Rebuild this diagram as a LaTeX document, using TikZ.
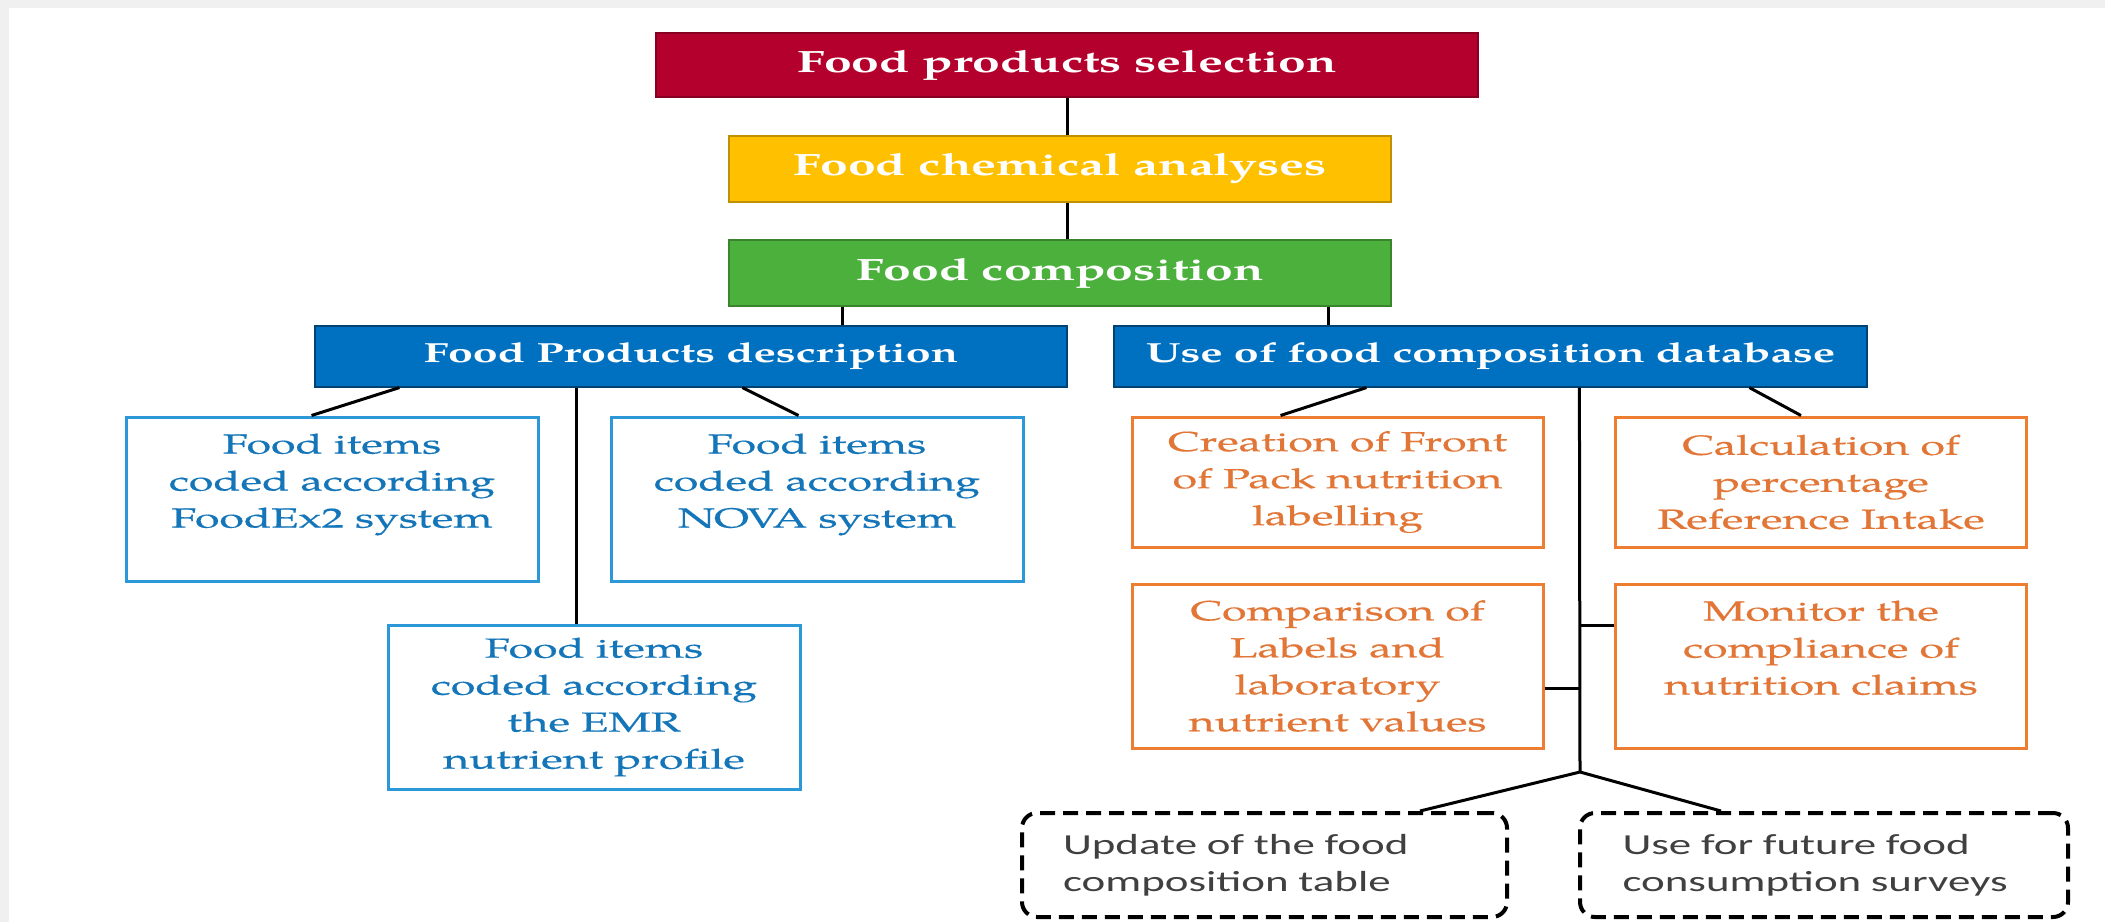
\documentclass[tikz,border=0pt]{standalone}
\usepackage{fontspec}
\newfontfamily\palfont{TeX Gyre Pagella}[FakeStretch=1.62]
\newfontfamily\palreg{TeX Gyre Pagella}[FakeStretch=1.62,FakeBold=0.5]
\newfontfamily\calfont{Carlito}[FakeStretch=1.55]
\usetikzlibrary{calc}
\definecolor{bggrey}{RGB}{240,240,240}
\definecolor{redc}{RGB}{180,0,45}
\definecolor{yellowc}{RGB}{255,192,0}
\definecolor{greenc}{RGB}{76,176,60}
\definecolor{bluec}{RGB}{0,112,192}
\definecolor{lbline}{RGB}{45,152,215}
\definecolor{lbtext}{RGB}{20,118,185}
\definecolor{orline}{RGB}{237,125,49}
\definecolor{ortext}{RGB}{226,118,55}
\definecolor{dtext}{RGB}{64,64,64}
\begin{document}
\begin{tikzpicture}[x=0.5pt,y=-0.5pt,
  conn/.style={draw=black,line width=1.5pt},
  topbox/.style={fill=#1,draw=#1!75!black,line width=0.6pt,inner sep=0pt,text=white,
    font=\palfont\bfseries\fontsize{15.4}{17}\selectfont},
  bluebox/.style={fill=bluec,draw=bluec!60!black,line width=0.6pt,inner sep=0pt,text=white,
    minimum height=30.5pt,font=\palfont\bfseries\fontsize{13.8}{16}\selectfont},
  subbox/.style={draw=lbline,fill=white,line width=1.5pt,text=lbtext,inner sep=0pt,
    minimum width=206pt,minimum height=82pt,align=center,
    font=\palreg\fontsize{13.8}{18.5}\selectfont},
  orbox/.style={draw=orline,fill=white,line width=1.5pt,text=ortext,inner sep=0pt,
    minimum width=205.5pt,align=center,
    font=\palreg\fontsize{13.8}{18.5}\selectfont},
  dashbox/.style={draw=black,fill=white,line width=2pt,dash pattern=on 7.5pt off 4pt,
    rounded corners=7.5pt,text=dtext,inner sep=0pt,text width=201.5pt,align=left,
    minimum height=52pt,font=\calfont\fontsize{14.5}{18.5}\selectfont}
]
\useasboundingbox (0,0) rectangle (2105,922);
\fill[bggrey] (0,0) rectangle (2105,922);
\fill[white] (9,8) rectangle (2105,922);

% top chain
\node[topbox=redc,minimum width=411pt,minimum height=32pt] (sel) at (1067,65) {Food products selection};
\node[topbox=yellowc,minimum width=331pt,minimum height=33pt] (chem) at (1060,169) {Food chemical analyses};
\node[topbox=greenc,minimum width=331pt,minimum height=33pt] (fcomp) at (1060,273) {Food composition};
\node[bluebox,minimum width=376pt] (desc) at (691,356.5) {Food Products description};
\node[bluebox,minimum width=376.5pt] (use) at (1490.5,356.5) {Use of food composition database};

% left branch
\node[subbox] (fx2) at (332,499) {Food items\\coded according\\FoodEx2 system\\\mbox{}};
\node[subbox] (nova) at (817,499) {Food items\\coded according\\NOVA system\\\mbox{}};
\node[subbox] (emr) at (594,707) {Food items\\coded according\\the EMR\\nutrient profile};

% right branch
\node[orbox,minimum height=65pt] (crea) at (1337.5,482) {Creation of Front\\of Pack nutrition\\labelling};
\node[orbox,minimum height=65pt] (calc) at (1821,482) {Calculation of\\percentage\\Reference Intake};
\node[orbox,minimum height=82pt] (cmp) at (1337.5,666) {Comparison of\\Labels and\\laboratory\\nutrient values};
\node[orbox,minimum height=82pt] (moni) at (1821,666) {Monitor the\\compliance of\\nutrition claims\\\mbox{}};

% dashed outputs
\node[dashbox,minimum width=242.5pt] (dl) at (1264.5,865) {Update of the food\\composition table};
\node[dashbox,minimum width=244pt] (dr) at (1824,865) {Use for future food\\consumption surveys};

% connectors
\draw[conn] (sel.south) -- (sel.south |- chem.north);
\draw[conn] (sel.south |- chem.south) -- (sel.south |- fcomp.north);
\draw[conn] ([xshift=57pt]fcomp.south west) -- ([xshift=57pt]fcomp.south west |- desc.north);
\draw[conn] ([xshift=-31.5pt]fcomp.south east) -- ([xshift=-31.5pt]fcomp.south east |- use.north);

\draw[conn] ([xshift=42.5pt]desc.south west) -- ([xshift=93.5pt]fx2.north west);
\draw[conn] ([xshift=214pt]desc.south west) -- ([xshift=94.5pt]nova.north west);
\draw[conn] ([xshift=131pt]desc.south west) -- ([xshift=131pt]desc.south west |- emr.north);

\draw[conn] ([xshift=126.5pt]use.south west) -- ([xshift=75pt]crea.north west);
\draw[conn] ([xshift=318pt]use.south west) -- ([xshift=93.5pt]calc.north west);
\coordinate (fork) at (1580,772);
\draw[conn] ([xshift=233pt]use.south west) -- (fork);
\coordinate (ms) at ($(moni.west)+(0,-41)$);
\draw[conn] (ms) -- (fork |- ms);
\coordinate (cs) at ($(cmp.east)+(0,22)$);
\draw[conn] (cs) -- (fork |- cs);
\draw[conn] ([xshift=200pt]dl.north west) -- (fork) -- ([xshift=71.5pt]dr.north west);
\end{tikzpicture}
\end{document}
